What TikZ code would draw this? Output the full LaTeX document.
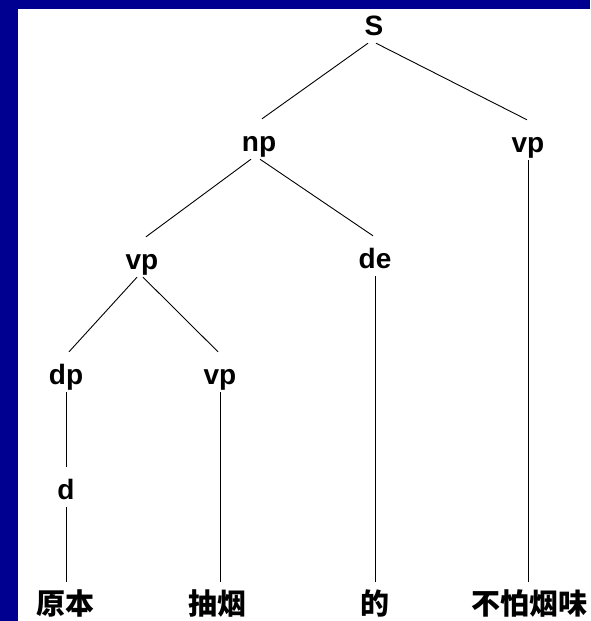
\documentclass[tikz,border=0pt]{standalone}
\usepackage{fontspec}
\setmainfont{Liberation Sans}
\newfontfamily\cjk{Noto Sans CJK SC}
\definecolor{bgblue}{RGB}{0,0,144}
\begin{document}
\begin{tikzpicture}[x=1pt,y=-1pt,
  lab/.style={anchor=base, inner sep=0pt, text height=32pt, text depth=8pt,
    font=\fontsize{28}{28}\selectfont\bfseries},
  word/.style={lab, font=\cjk\fontsize{29}{29}\selectfont\bfseries},
  edge/.style={draw=black, line width=0.9pt}]
\fill[bgblue] (0,0) rectangle (590,621);
\fill[white] (18,9) rectangle (590,621);
\useasboundingbox (0,0) rectangle (590,621);
\node[lab] (S) at (374,35) {S};
\node[lab] (np) at (259,151) {np};
\node[lab] (vpa) at (528,152) {vp};
\node[lab] (vpb) at (142,269) {vp};
\node[lab] (de) at (375,268) {de};
\node[lab] (dp) at (66,384) {dp};
\node[lab] (vpc) at (220,384) {vp};
\node[lab] (d) at (66,499) {d};
\node[word] (w1) at (65,614) {原本};
\node[word] (w2) at (217,614) {抽烟};
\node[word] (w3) at (375,614) {的};
\node[word] (w4) at (529,614) {不怕烟味};
\draw[edge] ([xshift=-6pt]S.south) -- ([xshift=3pt]np.north);
\draw[edge] ([xshift=2pt]S.south) -- ([xshift=-1pt]vpa.north);
\draw[edge] ([xshift=-8pt]np.south) -- ([xshift=4pt]vpb.north);
\draw[edge] ([xshift=1pt]np.south) -- ([xshift=-2pt]de.north);
\draw[edge] ([xshift=-5pt]vpb.south) -- ([xshift=3pt]dp.north);
\draw[edge] ([xshift=1pt]vpb.south) -- ([xshift=-2pt]vpc.north);
\draw[edge] (dp.south) -- (d.north);
\draw[edge] (d.south) -- (d.south |- w1.north);
\draw[edge] (vpc.south) -- (vpc.south |- w2.north);
\draw[edge] (de.south) -- (de.south |- w3.north);
\draw[edge] (vpa.south) -- (vpa.south |- w4.north);
\end{tikzpicture}
\end{document}
